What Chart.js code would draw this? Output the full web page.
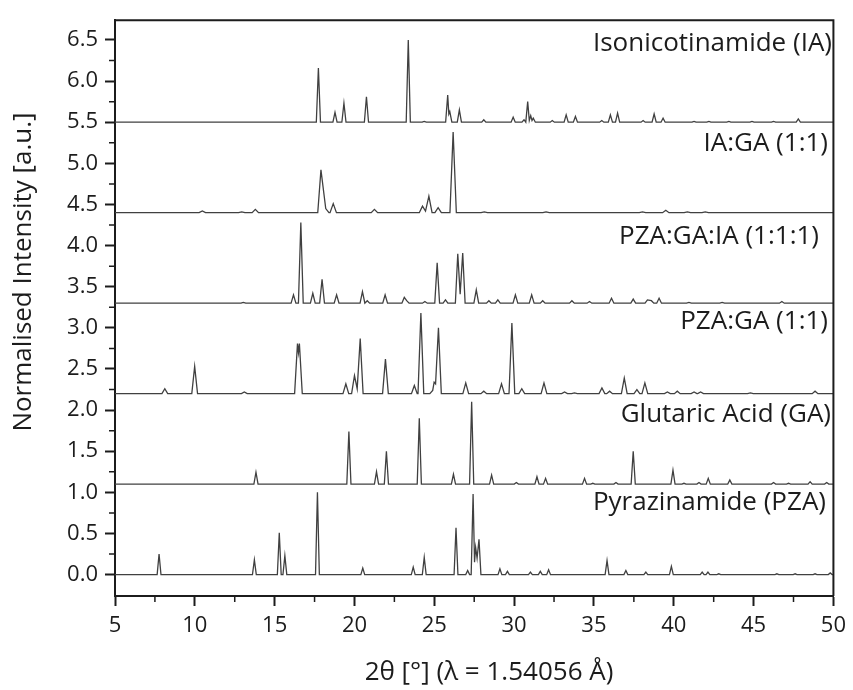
<!DOCTYPE html>
<html>
<head>
<meta charset="utf-8">
<script src="https://cdn.jsdelivr.net/npm/chart.js@4.4.1/dist/chart.umd.min.js"></script>
<style>
  html, body { margin: 0; padding: 0; background: #fff; }
  canvas { display: block; }
</style>
</head>
<body>
<canvas id="xrd" width="853" height="690"></canvas>
<script>
// pattern names, bottom to top
const seriesNames = [
    'Pyrazinamide (PZA)',
    'Glutaric Acid (GA)',
    'PZA:GA (1:1)',
    'PZA:GA:IA (1:1:1)',
    'IA:GA (1:1)',
    'Isonicotinamide (IA)',
];
// vertical offset of each pattern
const offsets = [0, 1.1, 2.2, 3.3, 4.4, 5.5];

// reflections: [2theta, normalised intensity]
const pzaPeaks = [
    [7.76, 0.25], [13.73, 0.18], [15.29, 0.51], [15.64, 0.23], [17.68, 1.0],
    [20.52, 0.08], [23.68, 0.09], [24.37, 0.21], [26.36, 0.57], [27.09, 0.05],
    [27.43, 0.98], [27.52, 0.15], [27.59, 0.33], [27.68, 0.2], [27.8, 0.43],
    [29.11, 0.07], [29.58, 0.04], [31.02, 0.03], [31.64, 0.04], [32.16, 0.06],
    [35.82, 0.17], [37.0, 0.05], [38.25, 0.03], [39.85, 0.1], [41.78, 0.03],
    [42.14, 0.03], [42.82, 0.01], [46.46, 0.01], [47.6, 0.01], [48.85, 0.01],
    [49.8, 0.02],
];
const gaPeaks = [
    [13.83, 0.145], [19.65, 0.64], [21.38, 0.15], [22.0, 0.4], [24.06, 0.8],
    [26.2, 0.12], [27.34, 1.0], [28.59, 0.11], [30.14, 0.02], [31.43, 0.09],
    [31.97, 0.07], [34.41, 0.07], [34.93, 0.01], [36.38, 0.02], [37.46, 0.4],
    [39.95, 0.17], [40.64, 0.01], [41.58, 0.02], [42.16, 0.07], [43.51, 0.05],
    [46.25, 0.02], [47.19, 0.01], [48.54, 0.03], [49.58, 0.02],
];
const pzaGaPeaks = [
    [8.12, 0.06], [9.99, 0.33], [13.1, 0.02], [16.43, 0.61], [16.49, 0.5],
    [16.55, 0.61], [19.46, 0.12], [20.0, 0.22], [20.17, 0.06], [20.36, 0.67],
    [21.94, 0.42], [23.75, 0.1], [24.16, 0.98], [24.9, 0.04], [24.99, 0.14],
    [25.08, 0.12], [25.26, 0.8], [26.97, 0.13], [28.1, 0.03], [29.21, 0.12],
    [29.86, 0.86], [30.48, 0.06], [31.87, 0.13], [33.16, 0.02], [33.78, 0.01],
    [35.5, 0.07], [35.98, 0.03], [36.9, 0.19], [37.69, 0.05], [38.19, 0.13],
    [39.6, 0.02], [40.22, 0.03], [41.27, 0.02], [41.68, 0.02], [44.8, 0.01],
    [48.85, 0.03],
];
const pzaGaIaPeaks = [
    [13.04, 0.01], [16.18, 0.1], [16.64, 0.98], [17.39, 0.12], [17.97, 0.29],
    [18.88, 0.1], [20.5, 0.14], [20.8, 0.03], [21.92, 0.1], [23.12, 0.07],
    [23.27, 0.03], [24.41, 0.02], [25.18, 0.49], [25.7, 0.04], [26.47, 0.6],
    [26.62, 0.11], [26.78, 0.61], [27.63, 0.16], [28.42, 0.03], [28.98, 0.04],
    [30.08, 0.1], [31.1, 0.1], [31.79, 0.03], [33.62, 0.03], [34.72, 0.02],
    [36.1, 0.06], [37.46, 0.05], [38.35, 0.04], [38.6, 0.03], [39.08, 0.06],
    [40.95, 0.01], [43.03, 0.01], [46.77, 0.02],
];
const iaGaPeaks = [
    [10.47, 0.02], [12.94, 0.01], [13.79, 0.04], [17.9, 0.52], [18.2, 0.05],
    [18.67, 0.11], [21.25, 0.04], [24.26, 0.08], [24.45, 0.02], [24.66, 0.2],
    [25.24, 0.06], [26.18, 0.98], [28.13, 0.01], [32.0, 0.01], [38.04, 0.01],
    [39.5, 0.03], [40.85, 0.01], [41.97, 0.01],
];
const iaPeaks = [
    [17.74, 0.66], [18.78, 0.12], [19.34, 0.23], [20.75, 0.31], [23.37, 1.0],
    [24.37, 0.01], [25.84, 0.33], [25.91, 0.1], [25.97, 0.13], [26.57, 0.15],
    [28.1, 0.03], [29.94, 0.06], [30.62, 0.03], [30.73, 0.0], [30.85, 0.25],
    [30.95, 0.02], [31.04, 0.08], [31.12, 0.02], [31.2, 0.05], [32.39, 0.02],
    [33.26, 0.09], [33.84, 0.07], [35.49, 0.02], [36.03, 0.09], [36.48, 0.11],
    [38.08, 0.02], [38.77, 0.1], [39.33, 0.05], [41.27, 0.01], [42.2, 0.01],
    [43.45, 0.01], [44.9, 0.01], [46.25, 0.01], [47.8, 0.04],
];

const xTicks = [5, 10, 15, 20, 25, 30, 35, 40, 45, 50];
const xMinor = [7.5, 12.5, 17.5, 22.5, 27.5, 32.5, 37.5, 42.5, 47.5];
const yTicks = [0, 0.5, 1, 1.5, 2, 2.5, 3, 3.5, 4, 4.5, 5, 5.5, 6, 6.5];
const yMinor = [0.25, 0.75, 1.25, 1.75, 2.25, 2.75, 3.25, 3.75, 4.25, 4.75, 5.25, 5.75, 6.25];

const allPeaks = [pzaPeaks, gaPeaks, pzaGaPeaks, pzaGaIaPeaks, iaGaPeaks, iaPeaks];
const halfWidths = [0.12, 0.13, 0.18, 0.15, 0.2, 0.13];

// turn a reflection list into a polyline sitting on its baseline
function trace(peaks, offset, w) {
    const pts = [{ x: 5, y: offset }];
    peaks.forEach(([pos, h], i) => {
        const prev = peaks[i - 1], next = peaks[i + 1];
        if (!prev || prev[0] + w < pos - w) pts.push({ x: pos - w, y: offset });
        pts.push({ x: pos, y: offset + h });
        if (!next || next[0] - w > pos + w) pts.push({ x: pos + w, y: offset });
    });
    pts.push({ x: 50, y: offset });
    return pts;
}

const INK = '#1c1c1c';
const FONT = '"Open Sans", sans-serif';
Chart.defaults.font.family = FONT;
Chart.defaults.color = INK;

const datasets = allPeaks.map((peaks, i) => ({
    label: seriesNames[i],
    data: trace(peaks, offsets[i], halfWidths[i]),
    borderColor: '#404040',
    borderWidth: 1.3,
    pointRadius: 0,
    tension: 0,
    fill: false,
}));

// frame, minor ticks, pattern names and axis titles
const decorations = {
    id: 'decorations',
    afterDraw(chart, args, opts) {
        const { ctx, chartArea: a, scales: { x, y } } = chart;
        ctx.save();
        ctx.strokeStyle = INK;
        ctx.lineWidth = 2;
        ctx.beginPath();
        ctx.moveTo(a.left, a.top);
        ctx.lineTo(a.right, a.top);
        ctx.lineTo(a.right, a.bottom);
        ctx.stroke();

        ctx.lineWidth = 1.5;
        ctx.beginPath();
        xMinor.forEach(v => {
            const px = x.getPixelForValue(v);
            ctx.moveTo(px, a.bottom);
            ctx.lineTo(px, a.bottom + 6);
        });
        yMinor.forEach(v => {
            const py = y.getPixelForValue(v);
            ctx.moveTo(a.left, py);
            ctx.lineTo(a.left - 6, py);
        });
        ctx.stroke();

        ctx.fillStyle = INK;
        ctx.textAlign = 'right';
        ctx.textBaseline = 'middle';
        ctx.font = '26px ' + FONT;
        seriesNames.forEach((name, i) => {
            ctx.fillText(name, opts.labelRight[i], y.getPixelForValue(offsets[i] + opts.labelLift[i]));
        });

        ctx.textAlign = 'center';
        ctx.fillText('2θ [°] (λ = 1.54056 Å)', opts.xTitle[0], opts.xTitle[1]);
        ctx.translate(opts.yTitle[0], opts.yTitle[1]);
        ctx.rotate(-Math.PI / 2);
        ctx.fillText('Normalised Intensity [a.u.]', 0, 0);
        ctx.restore();
    }
};

const axisTicks = { font: { size: 22 }, color: INK, autoSkip: false, maxRotation: 0 };
const axisGrid = { drawOnChartArea: false, drawTicks: true, tickLength: 10, tickColor: INK, tickWidth: 2 };
const axisBorder = { display: true, color: INK, width: 2 };

new Chart(document.getElementById('xrd'), {
    type: 'line',
    data: { datasets },
    plugins: [decorations],
    options: {
        responsive: false,
        animation: false,
        devicePixelRatio: 1,
        layout: { padding: { top: 15, right: 16, left: 0, bottom: 0 } },
        plugins: {
            legend: { display: false },
            tooltip: { enabled: false },
            decorations: {
                labelRight: [826, 831, 828, 819, 828, 832],
                labelLift: [0.88, 0.84, 0.88, 0.81, 0.84, 0.95],
                xTitle: [489, 673],
                yTitle: [24, 272],
            },
        },
        scales: {
            x: {
                type: 'linear',
                min: 5,
                max: 50,
                afterBuildTicks: s => { s.ticks = xTicks.map(v => ({ value: v })); },
                afterFit: s => { s.height = 94; },
                ticks: { ...axisTicks, padding: 7 },
                grid: axisGrid,
                border: axisBorder,
            },
            y: {
                type: 'linear',
                min: -0.26,
                max: 6.74,
                afterBuildTicks: s => { s.ticks = yTicks.map(v => ({ value: v })); },
                afterFit: s => { s.width = 115; },
                ticks: { ...axisTicks, padding: 7, callback: v => v.toFixed(1) },
                grid: axisGrid,
                border: axisBorder,
            },
        },
    },
});
</script>
</body>
</html>
